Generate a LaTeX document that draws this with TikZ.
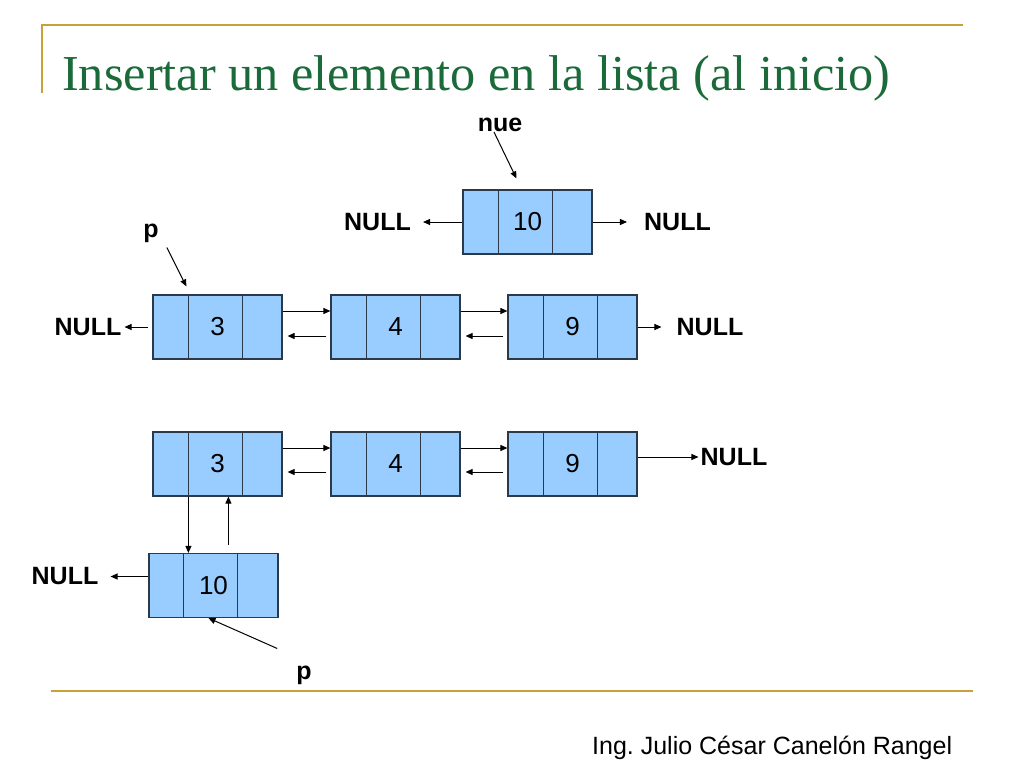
\documentclass[tikz,border=0pt]{standalone}
\usepackage{fontspec}
\setmainfont{Liberation Serif}
\setsansfont{Liberation Sans}
\usetikzlibrary{arrows.meta,calc}
\frenchspacing
\definecolor{gold}{HTML}{C9A13B}
\definecolor{titlegreen}{HTML}{1B6B3A}
\definecolor{boxfill}{HTML}{99CCFF}
\definecolor{boxline}{HTML}{2B3A4A}
\newcommand\listnode[5]{%
  \node[lst] (#1) at (#2) {#3};
  \draw[divider] ([xshift=#4]#1.north west) -- ([xshift=#4]#1.south west);
  \draw[divider] ([xshift=#5]#1.north west) -- ([xshift=#5]#1.south west);
}
\begin{document}
\begin{tikzpicture}[x=1pt,y=-1pt,
  lst/.style={draw=boxline, fill=boxfill, line width=1.2pt, minimum width=129pt,
    minimum height=64pt, inner sep=0pt, font=\sffamily\fontsize{26}{26}\selectfont},
  divider/.style={draw=boxline, line width=1.2pt},
  lbl/.style={inner sep=0pt, font=\sffamily\bfseries\fontsize{25}{25}\selectfont},
  arr/.style={-{Triangle[length=7pt,width=6pt]}, line width=1pt, black},
  frameline/.style={gold, line width=2.2pt}]
\fill[white] (0,0) rectangle (1024,768);
\useasboundingbox (0,0) rectangle (1024,768);
% frame
\draw[frameline] (42,93) -- (42,25) -- (963,25);
\draw[frameline] (51,691) -- (973,691);
% title and footer
\node[anchor=base west, inner sep=0pt, text=titlegreen, font=\fontsize{50.3}{50}\selectfont]
  (title) at (62,90) {Insertar un elemento en la lista (al inicio)};
\node[anchor=base west, inner sep=0pt, font=\sffamily\fontsize{25}{25}\selectfont]
  (footer) at (592,754) {Ing. Julio César Canelón Rangel};

% top new node
\listnode{nueN}{527.5,222}{10}{36pt}{90pt}
\node[lbl] (nuelbl) at (500,125) {nue};
\node[lbl] (ntl) at (377.5,222) {NULL};
\node[lbl] (ntr) at (677.5,222) {NULL};
\draw[arr] (nueN.west) -- ([xshift=12pt]ntl.east);
\draw[arr] (nueN.east) -- ([xshift=-17pt]ntr.west);
\draw[arr] ([xshift=-6pt]nuelbl.south) -- ([shift={(54,-11)}]nueN.north west);

% row 1
\listnode{a3}{217.5,327}{3}{36pt}{90pt}
\listnode{a4}{395.5,327}{4}{36pt}{90pt}
\listnode{a9}{572.5,327}{9}{36pt}{90pt}
\node[lbl] (ptop) at (151,233) {p};
\node[lbl] (nl1) at (88,327) {NULL};
\node[lbl] (nr1) at (710,327) {NULL};
\draw[arr] ([shift={(8,5)}]ptop.south east) -- ([shift={(34,-8)}]a3.north west);
\draw[arr] ([xshift=-4pt]a3.west) -- ([xshift=3pt]nl1.east);
\draw[arr] ([yshift=16pt]a3.east) -- ([yshift=16pt]a4.west);
\draw[arr] ([shift={(-4,9)}]a4.west) -- ([shift={(5,9)}]a3.east);
\draw[arr] ([yshift=16pt]a4.east) -- ([yshift=16pt]a9.west);
\draw[arr] ([shift={(-4,9)}]a9.west) -- ([shift={(5,9)}]a4.east);
\draw[arr] (a9.east) -- ([xshift=-15pt]nr1.west);

% row 2
\listnode{b3}{217.5,464}{3}{36pt}{90pt}
\listnode{b4}{395.5,464}{4}{36pt}{90pt}
\listnode{b9}{572.5,464}{9}{36pt}{90pt}
\node[lbl] (nr2) at (734,457) {NULL};
\draw[arr] ([yshift=16pt]b3.east) -- ([yshift=16pt]b4.west);
\draw[arr] ([shift={(-4,8)}]b4.west) -- ([shift={(5,8)}]b3.east);
\draw[arr] ([yshift=16pt]b4.east) -- ([yshift=16pt]b9.west);
\draw[arr] ([shift={(-4,8)}]b9.west) -- ([shift={(5,8)}]b4.east);
\draw[arr] ([yshift=7pt]b9.east) -- ([xshift=-2pt]nr2.west);

% inserted node
\listnode{n10}{213.5,585.5}{10}{35pt}{89pt}
\node[lbl] (nl3) at (65,576.5) {NULL};
\node[lbl] (pb) at (304,675) {p};
\draw[arr] ([xshift=36pt]b3.south west) -- ([xshift=40pt]n10.north west);
\draw[arr] ([shift={(80,-8)}]n10.north west) -- ([xshift=76pt]b3.south west);
\draw[arr] ([yshift=9pt]n10.west) -- ([xshift=12pt]nl3.east);
\draw[arr] ([shift={(-19,-17)}]pb.north west) -- ([xshift=-5pt]n10.south);
\end{tikzpicture}
\end{document}
